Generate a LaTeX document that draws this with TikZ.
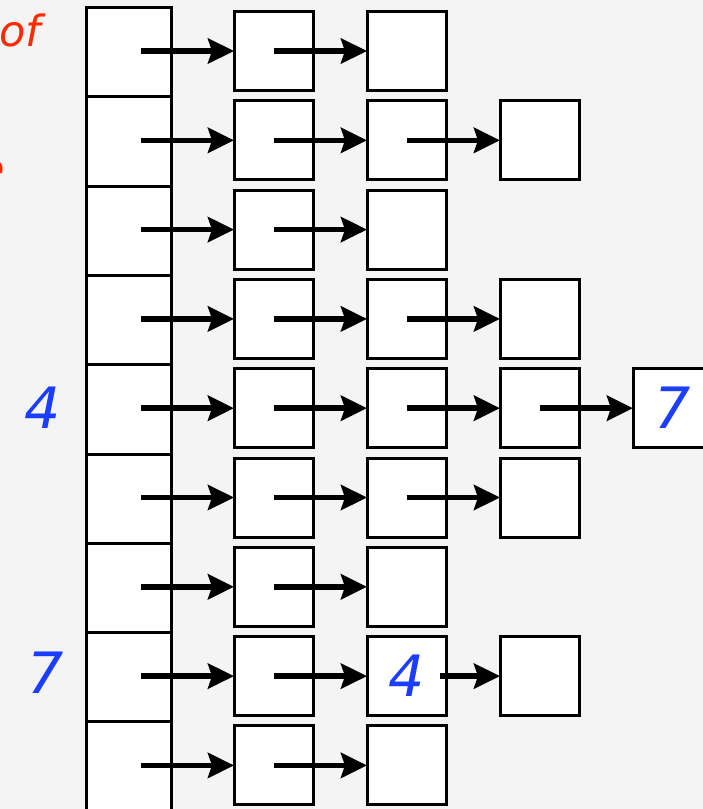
\documentclass[tikz,border=0pt]{standalone}
\usepackage{fontspec}
\setmainfont{DejaVu Sans}
\usetikzlibrary{arrows.meta}
\definecolor{bg}{HTML}{F4F4F4}
\definecolor{numblue}{HTML}{1A3DFF}
\definecolor{txtred}{HTML}{FF2A00}
\tikzset{
  cell/.style={draw=black, line width=3pt, fill=white, minimum width=85pt, minimum height=89.3pt, inner sep=0pt, outer sep=0pt},
  item/.style={draw=black, line width=3pt, fill=white, minimum width=79pt, minimum height=79pt, inner sep=0pt, outer sep=0pt},
  link/.style={line width=5.5pt, -{Stealth[length=26pt, width=25pt, inset=4pt]}},
  bignum/.style={text=numblue, font=\fontsize{57}{57}\selectfont\itshape, inner sep=0pt},
  redtxt/.style={text=txtred, font=\fontsize{43}{43}\selectfont\itshape, inner sep=0pt}
}
\begin{document}
\begin{tikzpicture}[x=1pt, y=-1pt]
\useasboundingbox (0,0) rectangle (703,809);
\fill[bg] (0,0) rectangle (703,809);
\clip (0,0) rectangle (703,809);
% red text fragments
\node[redtxt, anchor=base west] (lof) at (-1,46) {of};
\node[redtxt, anchor=base east] (le) at (5,184) {e};
% array cells
\foreach \i in {0,...,8} {
  \node[cell] (a\i) at (128.5, {52.15+89.3*\i}) {};
  \coordinate (s\i) at (141, {51+89.3*\i});
}
% chain boxes: row -> number of boxes
\foreach \i/\n in {0/2,1/3,2/2,3/3,4/4,5/3,6/2,7/3,8/2} {
  \foreach \j in {1,...,\n} {
    \node[item] (b\i-\j) at ({273.5+133*(\j-1)}, {51+89.3*\i}) {};
  }
}
% numbers
\node[bignum] (n47) at (b4-4.center) {7};
\node[bignum] (n74) at (b7-2.center) {4};
\node[bignum] (l4) at (43,408) {4};
\node[bignum] (l7) at (46,673) {7};
% arrows from array
\foreach \i in {0,...,8} {
  \draw[link] (s\i) -- (b\i-1.west);
}
% arrows along chains
\foreach \i/\n in {0/2,1/3,2/2,3/3,4/4,5/3,6/2,8/2} {
  \pgfmathtruncatemacro{\m}{\n-1}
  \foreach \j in {1,...,\m} {
    \pgfmathtruncatemacro{\k}{\j+1}
    \draw[link] (b\i-\j.center) -- (b\i-\k.west);
  }
}
\draw[link] (b7-1.center) -- (b7-2.west);
\coordinate (c74) at ([xshift=33.5pt]b7-2.center);
\draw[link] (c74) -- (b7-3.west);
\end{tikzpicture}
\end{document}
